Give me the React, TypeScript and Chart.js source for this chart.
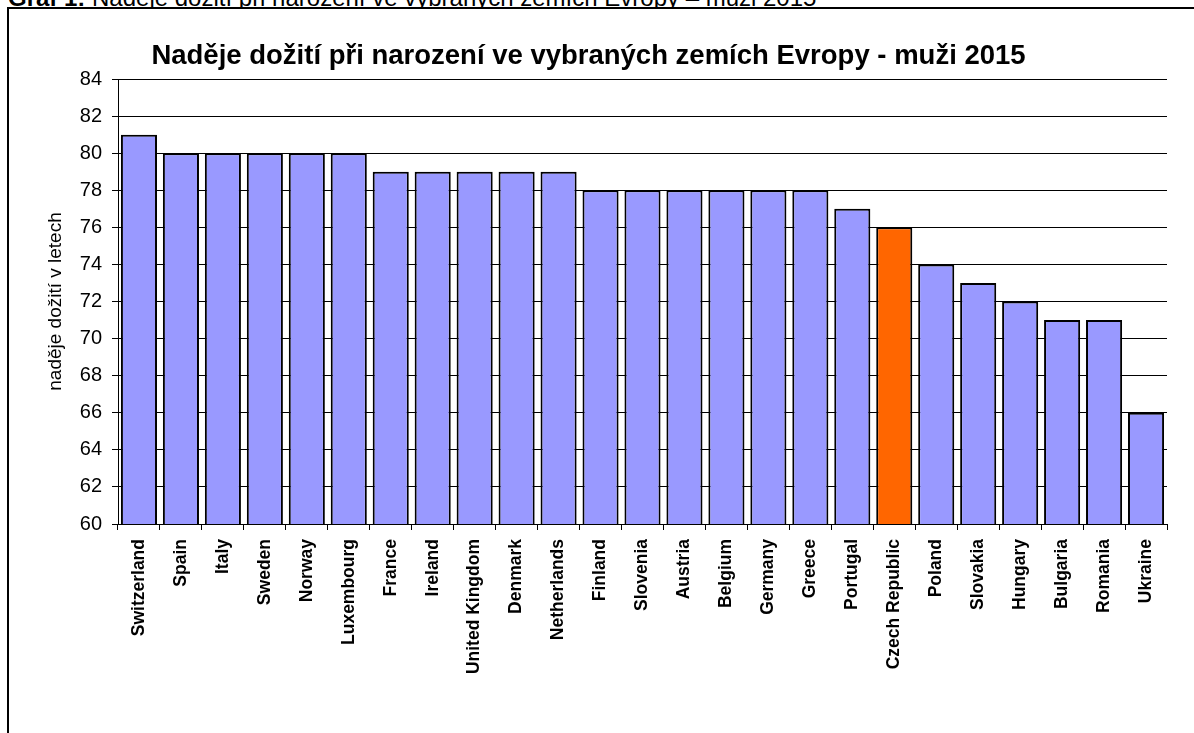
import React, { useEffect, useRef } from "react";
import { Chart, registerables } from "chart.js";

Chart.register(...registerables);

const countries: string[] = [
  "Switzerland", "Spain", "Italy", "Sweden", "Norway", "Luxembourg", "France", "Ireland",
  "United Kingdom", "Denmark", "Netherlands", "Finland", "Slovenia", "Austria", "Belgium",
  "Germany", "Greece", "Portugal", "Czech Republic", "Poland", "Slovakia", "Hungary",
  "Bulgaria", "Romania", "Ukraine",
];
const lifeExpectancy: number[] = [
  81, 80, 80, 80, 80, 80, 79, 79, 79, 79, 79, 78, 78, 78, 78, 78, 78, 77, 76, 74, 73, 72, 71, 71, 66,
];
const highlighted = "Czech Republic";
const yMin = 60;
const yMax = 84;
const yStep = 2;

const chartTitle = "Naděje dožití při narození ve vybraných zemích Evropy - muži 2015";
const yAxisTitle = "naděje dožití v letech";
const captionBold = "Graf 1:";
const captionText = " Naděje dožití při narození ve vybraných zemích Evropy – muži 2015";

const FONT = "'Liberation Sans', Arial, Helvetica, sans-serif";

export default function App() {
  const canvasRef = useRef<HTMLCanvasElement | null>(null);

  useEffect(() => {
    if (!canvasRef.current) return;
    const colors = countries.map((c) => (c === highlighted ? "#FF6600" : "#9999FF"));
    const chart = new Chart(canvasRef.current, {
      type: "bar",
      data: {
        labels: countries,
        datasets: [
          {
            data: lifeExpectancy,
            backgroundColor: colors,
            borderColor: "#000000",
            borderWidth: 2,
            borderSkipped: false,
            barPercentage: 0.86,
            categoryPercentage: 1,
          },
        ],
      },
      options: {
        animation: false,
        responsive: true,
        maintainAspectRatio: false,
        layout: { padding: { left: 0, right: 3, top: 0, bottom: 0 } },
        plugins: {
          legend: { display: false },
          tooltip: { enabled: false },
          title: {
            display: true,
            text: chartTitle,
            color: "#000",
            font: { family: FONT, size: 27.5, weight: "bold" },
            padding: { top: 30, bottom: 6 },
          },
        },
        scales: {
          x: {
            offset: true,
            grid: {
              offset: true,
              drawOnChartArea: false,
              color: "#000",
              tickColor: "#000",
              tickLength: 6,
            },
            border: { color: "#000", width: 1 },
            ticks: {
              color: "#000",
              autoSkip: false,
              minRotation: 90,
              maxRotation: 90,
              padding: 9,
              font: { family: FONT, size: 17.5, weight: "bold" },
            },
            afterFit: (s: any) => {
              s.height = 180;
              s.paddingLeft = 0;
              s.paddingRight = 0;
            },
          },
          y: {
            min: yMin,
            max: yMax,
            ticks: {
              stepSize: yStep,
              color: "#000",
              padding: 10,
              font: { family: FONT, size: 20 },
            },
            grid: { color: "#000", tickColor: "#000", tickLength: 6, lineWidth: 1 },
            border: { color: "#000", width: 1 },
            title: {
              display: true,
              text: yAxisTitle,
              color: "#000",
              font: { family: FONT, size: 19 },
              padding: { top: 34, bottom: 0 },
            },
            afterFit: (s: any) => {
              s.width = 108;
            },
          },
        },
      },
    });
    return () => chart.destroy();
  }, []);

  return (
    <div
      style={{
        position: "fixed",
        left: 0,
        top: 0,
        width: 1194,
        height: 733,
        overflow: "hidden",
        background: "#fff",
      }}
    >
      <div
        style={{
          position: "absolute",
          left: 8,
          top: -16,
          fontFamily: FONT,
          fontSize: 24,
          whiteSpace: "nowrap",
          color: "#000",
        }}
      >
        <b>{captionBold}</b>
        {captionText}
      </div>
      <div
        style={{
          position: "absolute",
          left: 7,
          top: 7,
          width: 1300,
          height: 900,
          border: "2px solid #000",
          boxSizing: "border-box",
          background: "#fff",
        }}
      />
      <div style={{ position: "absolute", left: 10, top: 10, width: 1160, height: 694 }}>
        <canvas ref={canvasRef} />
      </div>
    </div>
  );
}
